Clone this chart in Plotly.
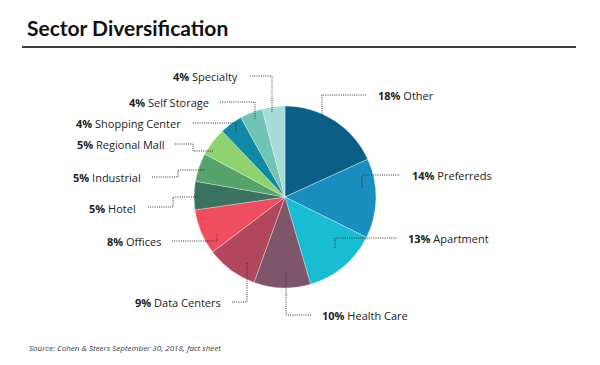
import plotly.graph_objects as go

# ---- data ----
sectors = ["Other", "Preferreds", "Apartment", "Health Care", "Data Centers", "Offices",
           "Hotel", "Industrial", "Regional Mall", "Shopping Center", "Self Storage", "Specialty"]
shares = [18, 14, 13, 10, 9, 8, 5, 5, 5, 4, 4, 4]
colors = ["#0b5f86", "#1a8fbf", "#16bdd3", "#7e5569", "#b2465c", "#ef4e61",
          "#3b7363", "#56a36b", "#8ed36f", "#0f89a5", "#6fc4b3", "#a7dcdb"]

title_text = "Sector Diversification"
source_text = "Source: Cohen & Steers September 30, 2018, fact sheet"

# ---- layout helpers (page-pixel positions of labels and leader lines) ----
label_pos = {
    "Specialty": (240, 76, "right"),
    "Self Storage": (211, 102, "right"),
    "Shopping Center": (183, 123, "right"),
    "Regional Mall": (166, 144, "right"),
    "Industrial": (143, 177, "right"),
    "Hotel": (138, 208, "right"),
    "Offices": (163, 241, "right"),
    "Data Centers": (223, 302, "right"),
    "Health Care": (320, 315, "left"),
    "Apartment": (406, 238, "left"),
    "Preferreds": (410, 175, "left"),
    "Other": (376, 95, "left"),
}
leader_paths = {
    "Specialty": "M250,76 H272 V112",
    "Self Storage": "M220,102 H255 V119",
    "Shopping Center": "M193,123 H236 V132",
    "Regional Mall": "M175,144 H193 V151 H213",
    "Industrial": "M152,177 H178 V170 H205",
    "Hotel": "M148,207 H173 V197 H199",
    "Offices": "M172,241 H217 V233",
    "Data Centers": "M232,302 H247 V263",
    "Health Care": "M286,273 V315 H312",
    "Apartment": "M335,248 V238 H397",
    "Preferreds": "M362,188 V175 H400",
    "Other": "M322,118 V95 H367",
}

PAGE_W, PAGE_H = 600, 365
OFF = 8  # default page body margin
W, H = PAGE_W - OFF, PAGE_H - OFF
cx, cy, r = 285, 197, 91


def px_x(x):
    return (x - OFF) / W


def px_y(y):
    return 1 - (y - OFF) / H


fig = go.Figure()
fig.add_trace(go.Pie(
    labels=sectors, values=shares, sort=False, direction="clockwise", rotation=0,
    marker=dict(colors=colors, line=dict(color="rgba(255,255,255,0.55)", width=0.6)),
    textinfo="none", hoverinfo="label+percent", showlegend=False,
    domain=dict(x=[px_x(cx - r), px_x(cx + r)], y=[px_y(cy + r), px_y(cy - r)]),
))

annotations = []
shapes = []
for name, val in zip(sectors, shares):
    x, y, anchor = label_pos[name]
    annotations.append(dict(
        x=x, y=y, xref="x", yref="y", xanchor=anchor, yanchor="middle",
        text=f"<b>{val}%</b> {name}", showarrow=False,
        font=dict(family="Open Sans", size=11, color="#222222"),
    ))
    shapes.append(dict(type="path", path=leader_paths[name], xref="x", yref="y",
                       line=dict(color="#333333", width=1, dash="1px,1.2px")))

annotations.append(dict(x=25, y=27, xref="x", yref="y", xanchor="left", yanchor="middle",
                        text=f"<b>{title_text}</b>", showarrow=False,
                        font=dict(family="Lato", size=21, color="#111111")))
annotations.append(dict(x=27, y=347, xref="x", yref="y", xanchor="left", yanchor="middle",
                        text=f"<i>{source_text}</i>", showarrow=False,
                        font=dict(family="Open Sans", size=8, color="#3a3a3a")))
shapes.append(dict(type="line", x0=22, x1=576, y0=47, y1=47, xref="x", yref="y",
                   line=dict(color="#3d3d3d", width=2)))

fig.update_layout(
    width=W, height=H, margin=dict(l=0, r=0, t=0, b=0),
    paper_bgcolor="white", plot_bgcolor="white",
    xaxis=dict(range=[OFF, PAGE_W], visible=False, fixedrange=True, domain=[0, 1]),
    yaxis=dict(range=[PAGE_H, OFF], visible=False, fixedrange=True, domain=[0, 1]),
    annotations=annotations, shapes=shapes,
)

fig.write_html("out.html")
